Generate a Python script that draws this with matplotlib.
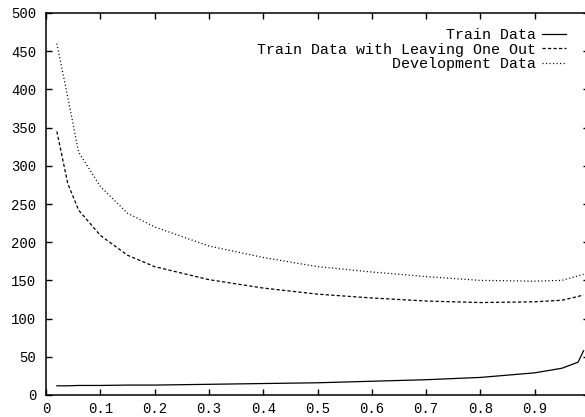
import matplotlib
matplotlib.use('Agg')
import matplotlib.pyplot as plt
import numpy as np

# fraction of training data used (x) and perplexity values
x = [0.02, 0.04, 0.06, 0.1, 0.15, 0.2, 0.3, 0.4, 0.5, 0.6, 0.7, 0.8, 0.9, 0.95, 0.98, 0.99]
train = [12, 12, 12.5, 12.5, 13, 13, 14, 15, 16, 18, 20, 23, 29, 35, 43, 58]
train_loo = [345, 277, 242, 209, 183, 168, 151, 140, 132, 127, 123, 121, 122, 124, 129, 131]
dev = [460, 390, 318, 273, 238, 220, 195, 180, 168, 161, 155, 150, 149, 150, 156, 158]

labels = ['Train Data', 'Train Data with Leaving One Out', 'Development Data']
xticks = np.arange(0, 1.01, 0.1)
# the 1.0 label falls outside the picture
xticklabels = ['0', '0.1', '0.2', '0.3', '0.4', '0.5', '0.6', '0.7', '0.8', '0.9', '']
yticks = np.arange(0, 501, 50)

plt.rcParams['font.family'] = ['Liberation Mono', 'DejaVu Sans Mono']

fig = plt.figure(figsize=(5.85, 4.17), dpi=100)
ax = fig.add_axes([46 / 585, 22 / 417, 543 / 585, 382 / 417])

ax.plot(x, train, color='black', linewidth=0.9, label=labels[0])
ax.plot(x, train_loo, color='black', linewidth=0.9, dashes=(2.6, 1.8), label=labels[1])
ax.plot(x, dev, color='black', linewidth=0.9, dashes=(0.9, 1.9), label=labels[2])

ax.set_xlim(0, 1)
ax.set_ylim(0, 500)
ax.set_xticks(xticks)
ax.set_xticklabels(xticklabels)
ax.set_yticks(yticks)
ax.tick_params(direction='in', top=True, right=True, length=4, width=1,
               labelsize=10, colors='black')
ax.tick_params(axis='y', pad=7)
ax.tick_params(axis='x', pad=5)
for s in ax.spines.values():
    s.set_linewidth(1.1)

ax.legend(loc='upper right', bbox_to_anchor=(0.958, 0.96), frameon=False,
          markerfirst=False, fontsize=10.8, handlelength=1.6, handletextpad=0.4,
          labelspacing=0.02, borderpad=0, borderaxespad=0)

plt.savefig('out.png', dpi=100)
